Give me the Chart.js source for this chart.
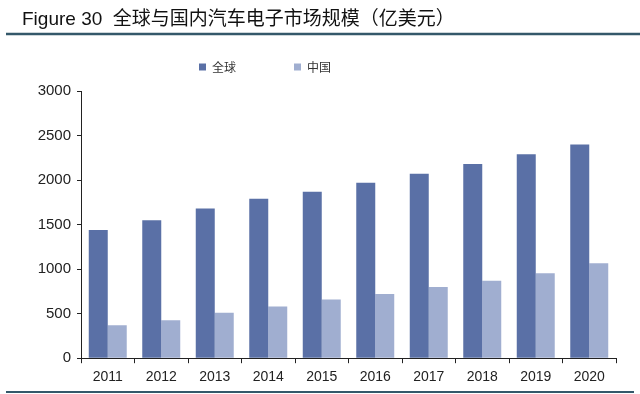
<!DOCTYPE html>
<html>
<head>
<meta charset="utf-8">
<script src="https://cdn.jsdelivr.net/npm/chart.js@4"></script>
<style>
  html, body { margin: 0; padding: 0; background: #fff; }
  #wrap { width: 640px; height: 394px; position: relative; }
</style>
</head>
<body>
<div id="wrap"><canvas id="marketChart" width="640" height="394"></canvas></div>
<script>
// data (亿美元)
const years = ['2011', '2012', '2013', '2014', '2015', '2016', '2017', '2018', '2019', '2020'];
const globalValues = [1440, 1550, 1680, 1790, 1870, 1970, 2070, 2180, 2290, 2400];
const chinaValues = [370, 425, 510, 580, 660, 720, 800, 870, 955, 1065];
const yTicks = [0, 500, 1000, 1500, 2000, 2500, 3000];
const seriesNames = ['全球', '中国'];

// rules under the title and at the bottom of the figure
const framePlugin = {
    id: 'frameLines',
    afterDraw(chart) {
        const ctx = chart.ctx;
        ctx.save();
        ctx.strokeStyle = '#34586a';
        ctx.lineWidth = 2.5;
        ctx.beginPath();
        ctx.moveTo(6, 34);
        ctx.lineTo(640, 34);
        ctx.stroke();
        ctx.lineWidth = 2;
        ctx.beginPath();
        ctx.moveTo(6, 392);
        ctx.lineTo(634, 392);
        ctx.stroke();
        ctx.restore();
    }
};

// extra room after each legend entry so they sit where the original has them
const legendGaps = ['\u3000\u3000\u3000\u3000', '\u3000\u3000\u3000\u3000\u3000\u3000\u3000\u3000\u3000'];

new Chart(document.getElementById('marketChart').getContext('2d'), {
    type: 'bar',
    data: {
        labels: years,
        datasets: [
            { label: seriesNames[0], data: globalValues, backgroundColor: '#5a70a6' },
            { label: seriesNames[1], data: chinaValues, backgroundColor: '#a0aed0' }
        ]
    },
    options: {
        responsive: false,
        animation: false,
        devicePixelRatio: 1,
        layout: { padding: { left: 22, right: 24, top: 0, bottom: 2 } },
        datasets: { bar: { categoryPercentage: 0.71, barPercentage: 1.0 } },
        plugins: {
            title: {
                display: true,
                text: 'Figure 30  全球与国内汽车电子市场规模（亿美元）',
                align: 'start',
                color: '#111',
                weight: 2000,
                font: { family: "'Liberation Sans', 'Noto Sans CJK SC', sans-serif", size: 19, weight: 'normal' },
                padding: { top: 8.6, bottom: 19.6 }
            },
            // empty spacer placed between legend and plot
            subtitle: {
                display: true,
                text: '',
                weight: 500,
                font: { size: 1 },
                padding: { top: 0, bottom: 6.8 }
            },
            legend: {
                display: true,
                labels: {
                    boxWidth: 7,
                    boxHeight: 7,
                    padding: 10,
                    color: '#333',
                    font: { family: "'Noto Sans CJK SC', sans-serif", size: 12 },
                    generateLabels(chart) {
                        const items = Chart.defaults.plugins.legend.labels.generateLabels(chart);
                        items.forEach((it, i) => { it.text = it.text + legendGaps[i]; });
                        return items;
                    }
                }
            },
            tooltip: { enabled: false }
        },
        scales: {
            x: {
                offset: true,
                grid: { offset: true, drawOnChartArea: false, drawTicks: true, tickLength: 5, color: '#222' },
                border: { color: '#222', width: 1 },
                ticks: {
                    color: '#222',
                    padding: 6,
                    font: { family: "'Liberation Sans', Arial, sans-serif", size: 14 }
                }
            },
            y: {
                min: 0,
                max: 3000,
                afterFit(scale) { scale.width = 59; },
                afterBuildTicks(scale) { scale.ticks = yTicks.map(v => ({ value: v })); },
                grid: { drawOnChartArea: false, drawTicks: true, tickLength: 4, color: '#222' },
                border: { color: '#222', width: 1 },
                ticks: {
                    color: '#222',
                    padding: 6,
                    font: { family: "'Liberation Sans', Arial, sans-serif", size: 15 },
                    callback: (v) => String(v)
                }
            }
        }
    },
    plugins: [framePlugin]
});
</script>
</body>
</html>
